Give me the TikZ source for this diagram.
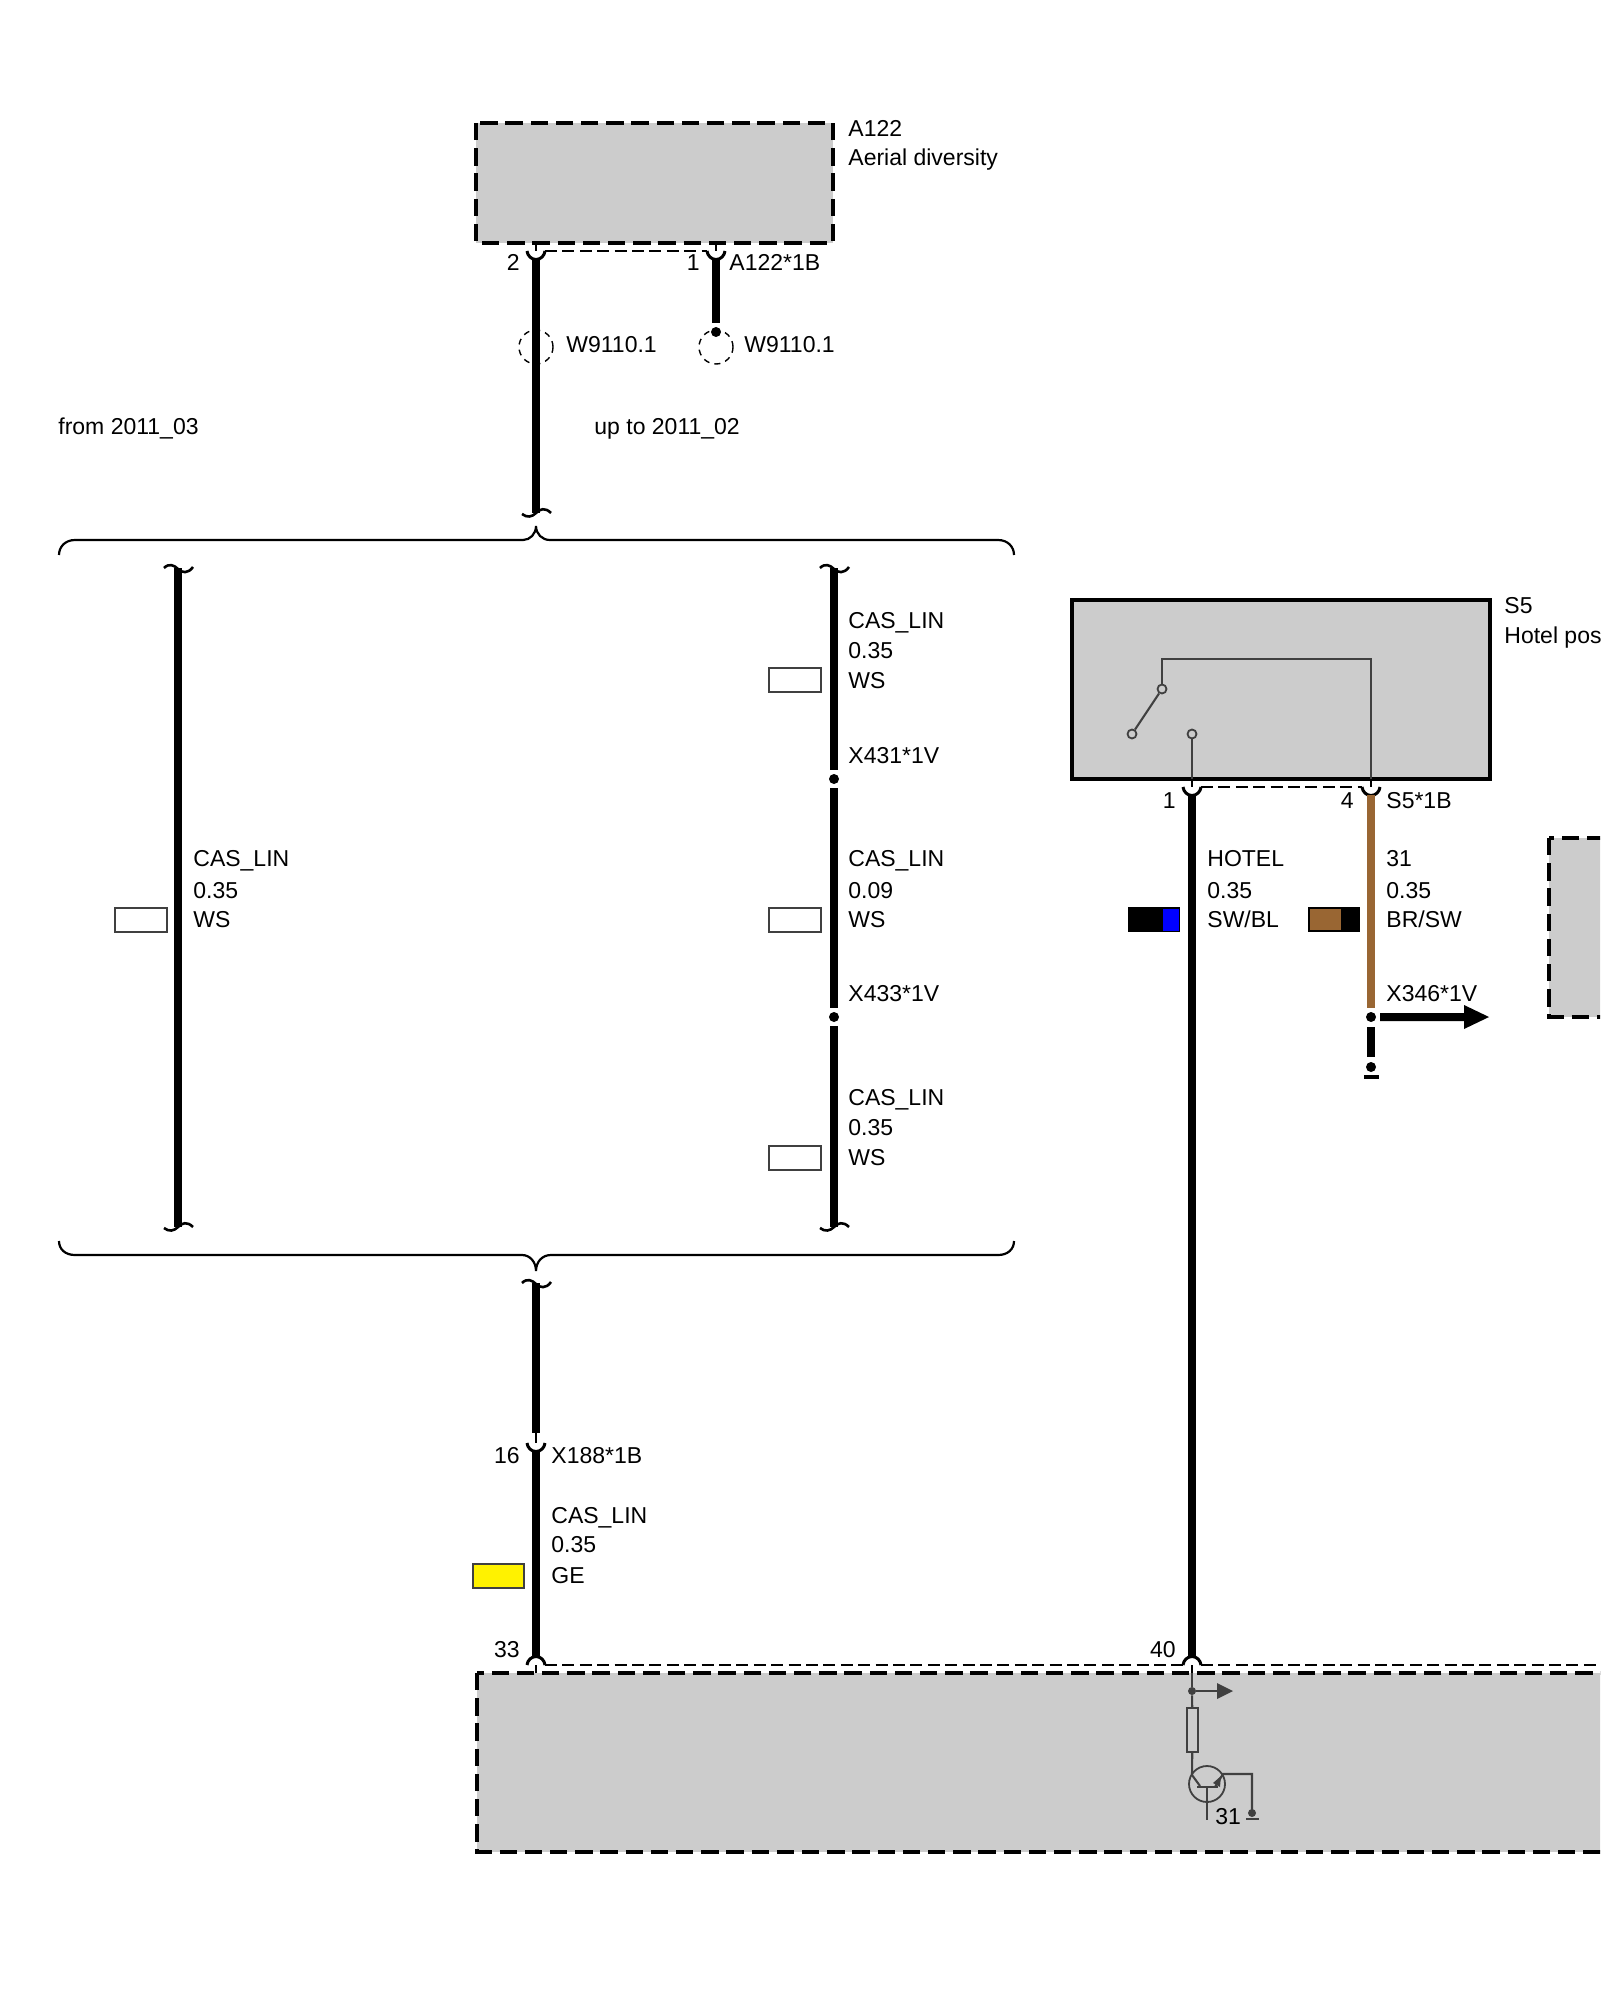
\documentclass[tikz,border=0pt]{standalone}
\usepackage{fontspec}
\setmainfont{Liberation Sans}
\definecolor{boxgray}{HTML}{CCCCCC}
\definecolor{inner}{HTML}{404040}
\definecolor{wirebrown}{HTML}{996633}
\tikzset{
  x=0.5pt,y=-0.5pt,
  lab/.style={anchor=base west,inner sep=0pt,font=\fontsize{11.5pt}{13pt}\selectfont},
  labr/.style={anchor=base east,inner sep=0pt,font=\fontsize{11.5pt}{13pt}\selectfont},
  wire/.style={line width=4pt,black},
  dashbox/.style={fill=boxgray,draw=black,line width=2.3pt,dash pattern=on 8.7pt off 3.9pt},
  solidbox/.style={fill=boxgray,draw=black,line width=2.3pt},
  conndash/.style={line width=0.8pt,black,dash pattern=on 6pt off 2.7pt},
  stub/.style={line width=0.8pt,black},
  swatch/.style={draw=inner,line width=0.8pt},
  circ/.style={line width=0.7pt,black,dash pattern=on 3pt off 2.6pt},
  inl/.style={line width=1.05pt,inner},
  term/.style={circle,draw=inner,fill=boxgray,line width=0.9pt,minimum size=4.5pt,inner sep=0pt},
  cupup/.pic={\draw[line width=1.5pt] (-9,0) .. controls (-8.5,4.7) and (-4.7,8.5) .. (0,8.5) .. controls (4.7,8.5) and (8.5,4.7) .. (9,0);},
  capdown/.pic={\draw[line width=1.5pt] (-9,0) .. controls (-8.5,-4.7) and (-4.7,-8.5) .. (0,-8.5) .. controls (4.7,-8.5) and (8.5,-4.7) .. (9,0);},
  tildetop/.pic={\draw[line width=1.3pt] (-14,0) .. controls (-9,-5) and (-4,-3) .. (0,1) .. controls (4,5) and (10,6) .. (15,-1);},
  tildebot/.pic={\draw[line width=1.3pt] (-14,1) .. controls (-9,5) and (-4,4) .. (0,0) .. controls (4,-4) and (9,-6) .. (15,0);},
}
\begin{document}
\begin{tikzpicture}
\useasboundingbox (0,0) rectangle (1600,2000);
\clip (0,0) rectangle (1600,2000);

% ---- component boxes
\path[dashbox] (476,123) rectangle (833,243);
\path[solidbox] (1072,600) rectangle (1490,779);
\path[dashbox] (1549,838) rectangle (1700,1017);
\path[dashbox] (477,1673) rectangle (1700,1852);

% ---- named points
\coordinate (a2c) at (536,251);
\coordinate (a1c) at (716,251);
\coordinate (a2t) at (536,243);
\coordinate (a1t) at (716,243);
\coordinate (s1c) at (1192,787);
\coordinate (s4c) at (1371,787);
\coordinate (s1t) at (1192,779);
\coordinate (s4t) at (1371,779);
\coordinate (x188c) at (536,1443);
\coordinate (p33c) at (536,1665);
\coordinate (p40c) at (1192,1665);
\coordinate (b33) at (536,1673);
\coordinate (b40) at (1192,1673);
\coordinate (edge) at (1600,1665);

% ---- thin connector housings
\draw[conndash] ([xshift=4.5pt]a2c) -- ([xshift=-4.5pt]a1c);
\draw[conndash] ([xshift=4.5pt]s1c) -- ([xshift=-4.5pt]s4c);
\draw[conndash] ([xshift=4.5pt]p33c) -- ([xshift=-4.5pt]p40c);
\draw[conndash] ([xshift=4.5pt]p40c) -- (edge);
\draw[stub] (a2t) -- (a2c);
\draw[stub] (a1t) -- (a1c);
\draw[stub] (s1t) -- (s1c);
\draw[stub] (s4t) -- (s4c);
\draw[stub] (b33) -- (p33c);
\draw[stub] (b40) -- (p40c);
\draw[stub] (536,1433) -- (x188c);

% ---- connector arcs
\pic at (a2c) {cupup};
\pic at (a1c) {cupup};
\pic at (s1c) {cupup};
\pic at (s4c) {cupup};
\pic at (x188c) {cupup};
\pic at (p33c) {capdown};
\pic at (p40c) {capdown};

% ---- wires
\coordinate (w2a) at (536,259);
\coordinate (w2b) at (536,513);
\coordinate (w1a) at (716,259);
\coordinate (w1b) at (716,323);
\draw[wire] (w2a) -- (w2b);
\draw[wire] (w1a) -- (w1b);
\node[circle,fill=black,minimum size=5pt,inner sep=0pt] (w1d) at (716,332) {};
\coordinate (cl) at (536,347);
\coordinate (cr) at (716,347);
\draw[circ] (cl) circle[radius=8.5pt];
\draw[circ] (cr) circle[radius=8.5pt];
\pic at (w2b) {tildebot};

% left variant
\coordinate (lt) at (178,568);
\coordinate (lb) at (178,1227);
\draw[wire] (lt) -- (lb);
\pic at (lt) {tildetop};
\pic at (lb) {tildebot};

% right variant
\coordinate (rt) at (834,568);
\coordinate (rb) at (834,1227);
\node[circle,fill=black,minimum size=5pt,inner sep=0pt] (x431) at (834,779) {};
\node[circle,fill=black,minimum size=5pt,inner sep=0pt] (x433) at (834,1017) {};
\draw[wire] (rt) -- (834,770);
\draw[wire] (834,788) -- (834,1008);
\draw[wire] (834,1026) -- (rb);
\pic at (rt) {tildetop};
\pic at (rb) {tildebot};

% lower trunk
\coordinate (tt) at (536,1283);
\draw[wire] (tt) -- (536,1433);
\pic at (tt) {tildetop};
\draw[wire] (536,1451) -- (536,1657);

% HOTEL wire
\draw[wire] (1192,795) -- (1192,1657);
% 31 wire
\draw[line width=4pt,wirebrown] (1371,795) -- (1371,1008);
\node[circle,fill=black,minimum size=5pt,inner sep=0pt] (x346) at (1371,1017) {};
\draw[wire] (1371,1027) -- (1371,1057);
\node[circle,fill=black,minimum size=5pt,inner sep=0pt] (gd) at (1371,1067) {};
\node[fill=black,minimum width=7.5pt,minimum height=2pt,inner sep=0pt] (gb) at (1371,1077) {};
\fill[black] (1380,1013) -- (1464,1013) -- (1464,1005) -- (1489,1017) -- (1464,1029) -- (1464,1021) -- (1380,1021) -- cycle;

% ---- braces
\draw[line width=1.1pt] (59,555) .. controls (59,547) and (65,540) .. (75,540) -- (523,540) .. controls (530,540) and (536,534) .. (536,526) .. controls (536,534) and (542,540) .. (550,540) -- (998,540) .. controls (1008,540) and (1014,547) .. (1014,555);
\draw[line width=1.1pt] (59,1241) .. controls (59,1249) and (65,1255) .. (75,1255) -- (522,1255) .. controls (530,1255) and (536,1262) .. (536,1271) .. controls (536,1262) and (542,1255) .. (551,1255) -- (998,1255) .. controls (1008,1255) and (1014,1249) .. (1014,1241);

% ---- swatches
\path[swatch,fill=white] (769,668) rectangle (821,692);
\path[swatch,fill=white] (769,908) rectangle (821,932);
\path[swatch,fill=white] (769,1146) rectangle (821,1170);
\path[swatch,fill=white] (115,908) rectangle (167,932);
\path[swatch,fill=yellow] (473,1564) rectangle (524,1588);
\fill[black] (1128,907) rectangle (1180,932);
\fill[blue] (1163,909) rectangle (1179,931);
\fill[black] (1308,907) rectangle (1360,932);
\fill[wirebrown] (1310,909) rectangle (1341,930);

% ---- S5 internals
\node[term] (sw1) at (1162,689) {};
\node[term] (sw2) at (1132,734) {};
\node[term] (sw3) at (1192,734) {};
\draw[inl] (s4t) -- (1371,659) -- (1162,659) -- (sw1);
\draw[inl] (sw1) -- (sw2);
\draw[inl] (sw3) -- (s1t);

% ---- control unit internals
\node[circle,fill=inner,minimum size=4pt,inner sep=0pt] (jn) at (1192,1691) {};
\node[draw=inner,line width=1pt,fill=none,minimum width=5.5pt,minimum height=22pt,inner sep=0pt] (res) at (1192.5,1730) {};
\node[circle,draw=inner,line width=0.9pt,minimum size=18pt,inner sep=0pt] (tr) at (1207,1784) {};
\draw[inl] (b40) -- (jn);
\draw[inl] (jn) -- (res);
\draw[inl] (jn) -- (1218,1691);
\fill[inner] (1217,1683) -- (1233,1691) -- (1217,1699) -- cycle;
\draw[inl] (res) -- (1192,1775) -- (1200,1786);
\draw[inl] (1197,1787) -- (1218,1787);
\draw[inl] (1207,1787) -- (1207,1820);
\draw[inl] (1215,1787) -- (1223,1774) -- (1252,1774) -- (1252,1813);
\fill[inner] (1213,1783) -- (1221,1776) -- (1220,1787) -- cycle;
\node[circle,fill=inner,minimum size=4pt,inner sep=0pt] (gnd) at (1252,1813) {};
\draw[inl] (1246,1819) -- (1259,1819);

% ---- labels
\node[lab] (l1) at (848,137) {A122};
\node[lab] (l2) at (848,166) {Aerial diversity};
\node[labr] (l3) at (520,271) {2};
\node[labr] (l4) at (700,271) {1};
\node[lab] (l5) at (729,271) {A122*1B};
\node[lab] (l6) at (566,353) {W9110.1};
\node[lab] (l7) at (744,353) {W9110.1};
\node[lab] (l8) at (58,435) {from 2011\_03};
\node[lab] (l9) at (594,435) {up to 2011\_02};

\node[lab] (m1) at (193,866) {CAS\_LIN};
\node[lab] (m2) at (193,898) {0.35};
\node[lab] (m3) at (193,927) {WS};

\node[lab] (r1) at (848,628) {CAS\_LIN};
\node[lab] (r2) at (848,658) {0.35};
\node[lab] (r3) at (848,688) {WS};
\node[lab] (r4) at (848,763) {X431*1V};
\node[lab] (r5) at (848,866) {CAS\_LIN};
\node[lab] (r6) at (848,898) {0.09};
\node[lab] (r7) at (848,927) {WS};
\node[lab] (r8) at (848,1001) {X433*1V};
\node[lab] (r9) at (848,1105) {CAS\_LIN};
\node[lab] (r10) at (848,1135) {0.35};
\node[lab] (r11) at (848,1165) {WS};

\node[labr] (t1) at (520,1463) {16};
\node[lab] (t2) at (551,1463) {X188*1B};
\node[lab] (t3) at (551,1523) {CAS\_LIN};
\node[lab] (t4) at (551,1552) {0.35};
\node[lab] (t5) at (551,1583) {GE};
\node[labr] (t6) at (520,1657) {33};
\node[labr] (t7) at (1176,1657) {40};

\node[lab] (s1) at (1504,613) {S5};
\node[lab] (s2) at (1504,643) {Hotel pos};
\node[labr] (s3) at (1176,808) {1};
\node[labr] (s4) at (1354,808) {4};
\node[lab] (s5) at (1386,808) {S5*1B};
\node[lab] (h1) at (1207,866) {HOTEL};
\node[lab] (h2) at (1207,898) {0.35};
\node[lab] (h3) at (1207,927) {SW/BL};
\node[lab] (b1) at (1386,866) {31};
\node[lab] (b2) at (1386,898) {0.35};
\node[lab] (b3) at (1386,927) {BR/SW};
\node[lab] (b4) at (1386,1001) {X346*1V};
\node[lab] (g31) at (1215,1824) {31};
\end{tikzpicture}
\end{document}
